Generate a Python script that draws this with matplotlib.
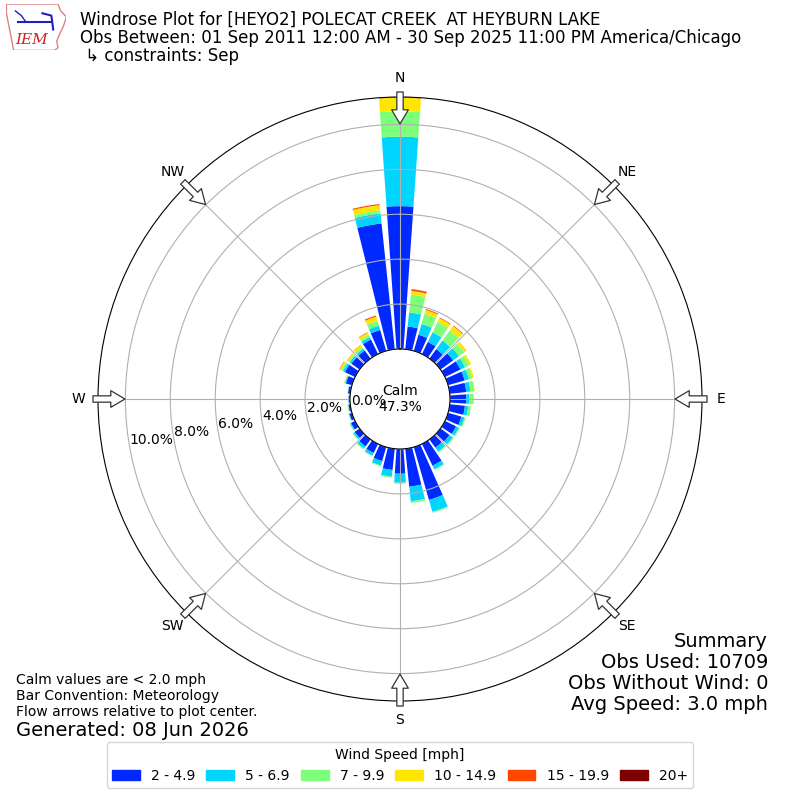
import numpy as np
import matplotlib
matplotlib.use("Agg")
import matplotlib.pyplot as plt
from matplotlib.patches import Patch, Polygon

# wind direction bins (deg, "from")
directions = np.arange(0, 360, 10)
speed_labels = ["2 - 4.9", "5 - 6.9", "7 - 9.9", "10 - 14.9", "15 - 19.9", "20+"]

# frequency (%) per direction for each speed bin
spd_2_5 = [6.36, 1.02, 0.75, 0.60, 0.52, 0.70, 0.77, 0.77, 0.74, 0.73, 0.68, 0.62,
           0.55, 0.50, 0.45, 1.08, 2.45, 1.70, 1.10, 0.95, 0.65, 0.45, 0.38, 0.27,
           0.20, 0.12, 0.08, 0.06, 0.10, 0.28, 0.50, 0.45, 0.45, 0.72, 0.97, 5.63]
spd_5_7 = [3.09, 0.63, 0.50, 0.48, 0.47, 0.32, 0.23, 0.20, 0.19, 0.12, 0.15, 0.14,
           0.14, 0.18, 0.22, 0.18, 0.55, 0.65, 0.40, 0.30, 0.20, 0.13, 0.12, 0.08,
           0.05, 0.03, 0.02, 0.01, 0.02, 0.04, 0.10, 0.10, 0.10, 0.12, 0.20, 0.45]
spd_7_10 = [1.13, 0.80, 0.47, 0.52, 0.55, 0.30, 0.20, 0.16, 0.17, 0.20, 0.12, 0.06,
            0.05, 0.05, 0.05, 0.04, 0.05, 0.08, 0.05, 0.05, 0.04, 0.03, 0.05, 0.04,
            0.03, 0.02, 0.02, 0.00, 0.00, 0.03, 0.08, 0.07, 0.10, 0.10, 0.22, 0.14]
spd_10_15 = [0.61, 0.16, 0.18, 0.18, 0.25, 0.10, 0.10, 0.07, 0.03, 0.02, 0.00, 0.00,
             0.00, 0.00, 0.00, 0.00, 0.00, 0.00, 0.00, 0.00, 0.00, 0.00, 0.00, 0.00,
             0.00, 0.00, 0.00, 0.00, 0.00, 0.02, 0.08, 0.07, 0.10, 0.12, 0.20, 0.23]
spd_15_20 = [0.03, 0.07, 0.04, 0.03, 0.03, 0.01, 0.00, 0.00, 0.00, 0.00, 0.00, 0.00,
             0.00, 0.00, 0.00, 0.00, 0.00, 0.00, 0.00, 0.00, 0.00, 0.00, 0.00, 0.00,
             0.00, 0.00, 0.00, 0.00, 0.00, 0.00, 0.02, 0.01, 0.01, 0.02, 0.05, 0.05]
spd_20 = [0.00, 0.01, 0.00, 0.00, 0.00, 0.00, 0.00, 0.00, 0.00, 0.00, 0.00, 0.00,
          0.00, 0.00, 0.00, 0.00, 0.00, 0.00, 0.00, 0.00, 0.00, 0.00, 0.00, 0.00,
          0.00, 0.00, 0.00, 0.00, 0.00, 0.00, 0.00, 0.00, 0.00, 0.00, 0.00, 0.00]

calm_pct = 47.3
rticks = [0, 2, 4, 6, 8, 10]
compass = ["N", "NE", "E", "SE", "S", "SW", "W", "NW"]

series = [spd_2_5, spd_5_7, spd_7_10, spd_10_15, spd_15_20, spd_20]
colors = plt.cm.jet(np.linspace(0, 1, 7)[1:])

fig = plt.figure(figsize=(8, 8), dpi=100)
ax = fig.add_axes([0.1225, 0.12375, 0.755, 0.755], projection="polar")
ax.set_theta_zero_location("N")
ax.set_theta_direction(-1)

theta = np.radians(directions)
bottom = np.zeros(len(directions))
for vals, col, lab in zip(series, colors, speed_labels):
    vals = np.array(vals)
    ax.bar(theta, vals, width=np.radians(8), bottom=bottom, color=col,
           label=lab, linewidth=0)
    bottom += vals

ymax = bottom.max()
ax.set_ylim(0, ymax)
ax.set_rorigin(-ymax * 50 / 252)
ax.set_yticks(rticks)
ax.set_yticklabels(["%.1f%%" % t for t in rticks])
ax.set_rlabel_position(260)
ax.set_thetagrids(np.arange(0, 360, 45), labels=compass)
ax.grid(True, color="#b0b0b0", lw=0.8)
ax.tick_params(labelsize=10)

ax.text(0.5, 0.5, "Calm\n%.1f%%" % calm_pct, transform=ax.transAxes,
        ha="center", va="center", fontsize=10)

# flow arrows
for b in range(0, 360, 45):
    ax.annotate("", xy=(np.radians(b), ymax * 0.893),
                xytext=(np.radians(b), ymax * 1.02),
                arrowprops=dict(arrowstyle="simple,head_length=0.85,head_width=1.0,tail_width=0.38",
                                fc="white", ec="#333333", lw=0.9,
                                mutation_scale=12, shrinkA=0, shrinkB=0),
                annotation_clip=False, zorder=5)

# titles
fig.text(0.1, 1 - 20 / 800, "Windrose Plot for [HEYO2] POLECAT CREEK  AT HEYBURN LAKE",
         fontsize=12, va="center")
fig.text(0.1, 1 - 38 / 800,
         "Obs Between: 01 Sep 2011 12:00 AM - 30 Sep 2025 11:00 PM America/Chicago",
         fontsize=12, va="center")
fig.text(0.1, 1 - 56 / 800, " \u21b3 constraints: Sep", fontsize=12, va="center")

# IEM logo (rough)
lax = fig.add_axes([0.008, 0.937, 0.075, 0.058])
lax.set_xlim(0, 1)
lax.set_ylim(0, 1)
lax.axis("off")
iowa = [(0.0, 1.0), (0.86, 1.0), (0.9, 0.86), (1.0, 0.72), (0.95, 0.52), (0.89, 0.36),
        (0.84, 0.2), (0.86, 0.06), (0.8, 0.0), (0.12, 0.0), (0.08, 0.28), (0.03, 0.6),
        (0.0, 0.8)]
lax.add_patch(Polygon(iowa, closed=True, fill=False, ec="#e08080", lw=1))
lax.plot([0.2, 0.75], [0.62, 0.62], color="#2020c0", lw=1.5)
lax.plot([0.15, 0.25, 0.32], [0.85, 0.75, 0.62], color="#2020c0", lw=1)
lax.plot([0.6, 0.75, 0.78], [0.8, 0.75, 0.45], color="#2020c0", lw=1.5)
lax.text(0.42, 0.22, "IEM", color="#d02020", fontsize=11, family="DejaVu Serif",
         style="italic", ha="center", va="center")

# footer notes
fig.text(0.02, 1 - 696 / 800,
         "Calm values are < 2.0 mph\nBar Convention: Meteorology\nFlow arrows relative to plot center.",
         fontsize=10, va="center")
fig.text(0.02, 1 - 730 / 800, "Generated: 08 Jun 2026", fontsize=14, va="center")
fig.text(0.96, 1 - 673 / 800,
         "Summary\nObs Used: 10709\nObs Without Wind: 0\nAvg Speed: 3.0 mph",
         fontsize=14, ha="right", va="center", linespacing=1.13)

handles = [Patch(color=c) for c in colors]
fig.legend(handles, speed_labels, loc="lower center", ncol=6,
           title="Wind Speed [mph]", bbox_to_anchor=(0.5, 0.006),
           fontsize=10, title_fontsize=10, columnspacing=0.8)

fig.savefig("out.png", dpi=100)
